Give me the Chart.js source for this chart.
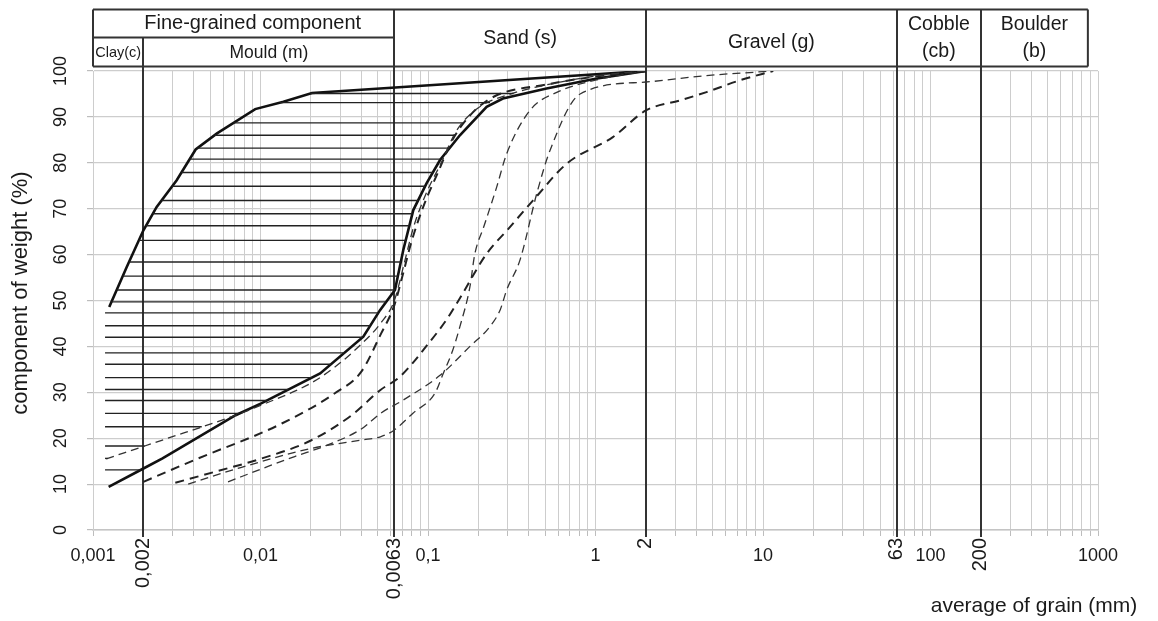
<!DOCTYPE html>
<html><head><meta charset="utf-8">
<script src="https://cdn.jsdelivr.net/npm/chart.js@4.4.1/dist/chart.umd.min.js"></script>
<style>html,body{margin:0;padding:0;background:#fff}#wrap{width:1158px;height:621px;position:relative}</style>
</head><body><div id="wrap"><canvas id="c" width="1158" height="621"></canvas></div>
<script>
// ---------- data ----------
const xDecades = [0.001, 0.01, 0.1, 1, 10, 100, 1000];
const xDecadeLabels = ['0,001', '0,01', '0,1', '1', '10', '100', '1000'];
const boundaryValues = [0.002, 0.063, 2, 63, 200];
const boundaryLabels = ['0,002', '0,0063', '2', '63', '200'];
const yTicks = [0, 10, 20, 30, 40, 50, 60, 70, 80, 90, 100];

const headerTopLabels = ['Fine-grained component', 'Sand (s)', 'Gravel (g)', 'Cobble|(cb)', 'Boulder|(b)'];
const headerTopBounds = [0.001, 0.063, 2, 63, 200, 870];
const headerSubLabels = ['Clay(c)', 'Mould (m)'];
const headerSubBounds = [0.001, 0.002, 0.063];

const upperBoundary = [[0.00125,48.6],[0.00159,57.3],[0.002,65.3],[0.0024,70.4],[0.00316,76.2],[0.0041,82.9],[0.0055,86.4],[0.0093,91.7],[0.0137,93.3],[0.0203,95.2],[2,100]];
const lowerBoundary = [[0.00124,9.4],[0.002,13.4],[0.0026,15.6],[0.0071,25],[0.0101,27.6],[0.0227,34.1],[0.0411,42.1],[0.0517,47.9],[0.0635,52.3],[0.0712,61],[0.0817,69.7],[0.098,75.5],[0.118,80.6],[0.155,86],[0.224,92.2],[0.28,94],[0.51,96.2],[1.0,98.3],[2,100]];
const hatchLevels = [95.1,93.1,88.7,86.0,83.2,80.8,77.9,74.9,71.8,68.9,66.3,63.1,58.4,55.3,52.3,49.7,47.3,44.5,42.0,38.6,36.1,33.2,30.6,28.2,25.4,22.5,18.3,15.6,13.1];
const hatchLeftLimit = 0.00118;

const sample1 = [[0.0012,15.5],[0.0026,19.6],[0.0071,25],[0.0101,27.2],[0.02,32],[0.0278,35.5],[0.04,40.5],[0.052,45],[0.063,50],[0.072,58],[0.082,66],[0.098,73.5],[0.12,80],[0.148,87],[0.2,92],[0.3,94.8],[0.6,97.5],[1.2,99.3],[2,100]];
const sample2 = [[0.002,10.5],[0.004,15.2],[0.0134,23.2],[0.0278,29.8],[0.04,34.5],[0.052,42.5],[0.063,49],[0.07,55],[0.08,63],[0.095,71],[0.115,78],[0.14,85],[0.18,90.5],[0.25,94.5],[0.5,97],[1,98.8],[2,100]];
const sample3 = [[0.0031,10.3],[0.0055,12.8],[0.01,15.5],[0.02,19.5],[0.035,25],[0.052,30.5],[0.068,33.4],[0.1,40.5],[0.13,46],[0.155,50.5],[0.224,60.2],[0.3,65.5],[0.424,71.8],[0.673,79.8],[1.27,85.6],[2,91.4],[3.2,93.6],[4.6,95.4],[7.3,98],[11.5,100]];
const sample4 = [[0.0037,10],[0.007,13.2],[0.0203,17.8],[0.04,19.6],[0.052,20.3],[0.063,21.8],[0.081,25.4],[0.11,29.8],[0.123,34],[0.14,39],[0.155,44.3],[0.178,53],[0.19,60],[0.215,66],[0.257,74.7],[0.295,82],[0.406,91.4],[0.6,95.5],[1,98],[2,100]];
const sample5 = [[0.0064,10.5],[0.011,13.8],[0.016,16],[0.025,18.5],[0.04,22],[0.052,25.4],[0.071,28.3],[0.118,33.7],[0.178,40],[0.234,44.3],[0.27,48],[0.295,52.3],[0.354,58.8],[0.446,73.3],[0.535,82.7],[0.81,95],[2,97.6],[4.6,99],[11.5,100]];

// ---------- helpers ----------
const FONT = '"Liberation Sans", Arial, Helvetica, sans-serif';
const toPts = arr => arr.map(([x, y]) => ({x, y}));
function xAtLevel(curve, y) {
  for (let i = 0; i < curve.length - 1; i++) {
    const [x0, y0] = curve[i], [x1, y1] = curve[i + 1];
    if (y >= y0 && y <= y1) {
      const t = (y - y0) / (y1 - y0);
      return Math.pow(10, Math.log10(x0) + t * (Math.log10(x1) - Math.log10(x0)));
    }
  }
  return null;
}
const gridValues = [];
for (let e = -3; e <= 2; e++) for (let k = 1; k <= 9; k++) gridValues.push(Number((k * Math.pow(10, e)).toPrecision(6)));
gridValues.push(1000);

const datasets = [];
hatchLevels.forEach(lv => {
  const xl = lv < upperBoundary[0][1] ? hatchLeftLimit : xAtLevel(upperBoundary, lv);
  const xr = Math.min(xAtLevel(lowerBoundary, lv), xAtLevel(sample1, lv) || Infinity);
  datasets.push({data: [{x: xl, y: lv}, {x: xr, y: lv}], borderColor: '#222', borderWidth: 1.4, tension: 0});
});
const dashThin = {borderColor: '#333', borderWidth: 1.3, borderDash: [8, 5], cubicInterpolationMode: 'monotone'};
const dashBold = {borderColor: '#222', borderWidth: 2, borderDash: [9, 6], cubicInterpolationMode: 'monotone'};
datasets.push(Object.assign({data: toPts(sample1)}, dashThin));
datasets.push(Object.assign({data: toPts(sample2)}, dashBold));
datasets.push(Object.assign({data: toPts(sample3)}, dashBold));
datasets.push(Object.assign({data: toPts(sample4)}, dashThin));
datasets.push(Object.assign({data: toPts(sample5)}, dashThin));
datasets.push({data: toPts(upperBoundary), borderColor: '#111', borderWidth: 2.6, tension: 0});
datasets.push({data: toPts(lowerBoundary), borderColor: '#111', borderWidth: 2.6, tension: 0});

const TABLE_TOP = 9.5, TABLE_MID = 37.5, TABLE_BOTTOM = 66.5;

const overlay = {
  id: 'overlay',
  beforeDatasetsDraw(chart) {
    const c = chart.ctx, xs = chart.scales.x;
    c.save();
    c.strokeStyle = '#333'; c.lineWidth = 2;
    boundaryValues.forEach((v, i) => {
      const px = Math.round(xs.getPixelForValue(v));
      c.beginPath();
      c.moveTo(px, i === 0 ? TABLE_MID : TABLE_TOP);
      c.lineTo(px, chart.chartArea.bottom + 7);
      c.stroke();
    });
    c.restore();
  },
  afterDraw(chart) {
    const c = chart.ctx, xs = chart.scales.x, ys = chart.scales.y;
    c.save();
    // table frame
    const L = xs.getPixelForValue(headerTopBounds[0]);
    const R = xs.getPixelForValue(headerTopBounds[headerTopBounds.length - 1]);
    const M = xs.getPixelForValue(headerSubBounds[2]);
    c.strokeStyle = '#333'; c.lineWidth = 2;
    c.beginPath();
    c.moveTo(L, TABLE_TOP); c.lineTo(R, TABLE_TOP);
    c.moveTo(L, TABLE_BOTTOM); c.lineTo(R, TABLE_BOTTOM);
    c.moveTo(L, TABLE_MID); c.lineTo(M, TABLE_MID);
    c.moveTo(L, TABLE_TOP); c.lineTo(L, TABLE_BOTTOM);
    c.moveTo(R, TABLE_TOP); c.lineTo(R, TABLE_BOTTOM);
    c.stroke();
    // header text
    c.fillStyle = '#1a1a1a'; c.textAlign = 'center'; c.textBaseline = 'middle';
    headerTopLabels.forEach((lab, i) => {
      const x0 = xs.getPixelForValue(headerTopBounds[i]), x1 = xs.getPixelForValue(headerTopBounds[i + 1]);
      const cx = (x0 + x1) / 2;
      c.font = '19.5px ' + FONT;
      if (i === 0) { c.font = '20px ' + FONT; c.fillText(lab, cx + 9, 23.5); }
      else if (lab.indexOf('|') >= 0) {
        const parts = lab.split('|');
        c.fillText(parts[0], cx, 25); c.fillText(parts[1], cx, 51.5);
      } else { c.fillText(lab, cx, i === 1 ? 39 : 43); }
    });
    headerSubLabels.forEach((lab, i) => {
      const x0 = xs.getPixelForValue(headerSubBounds[i]), x1 = xs.getPixelForValue(headerSubBounds[i + 1]);
      c.font = (i === 0 ? '14.5px ' : '17.5px ') + FONT;
      c.fillText(lab, (x0 + x1) / 2, 53);
    });
    // rotated boundary tick labels
    c.font = '20px ' + FONT; c.textAlign = 'right'; c.textBaseline = 'middle';
    boundaryValues.forEach((v, i) => {
      const px = xs.getPixelForValue(v);
      c.save(); c.translate(px, chart.chartArea.bottom + 8); c.rotate(-Math.PI / 2);
      c.fillText(boundaryLabels[i], 0, 0); c.restore();
    });
    // y tick labels (rotated)
    c.font = '18px ' + FONT; c.textAlign = 'center';
    yTicks.forEach(v => {
      const py = ys.getPixelForValue(v);
      c.save(); c.translate(61, py); c.rotate(-Math.PI / 2);
      c.fillText(String(v), 0, 0); c.restore();
    });
    // axis titles
    c.font = '22px ' + FONT;
    c.save(); c.translate(21, 293); c.rotate(-Math.PI / 2);
    c.fillText('component of weight (%)', 0, 0); c.restore();
    c.font = '21px ' + FONT; c.textAlign = 'center';
    c.fillText('average of grain (mm)', 1034, 606);
    c.restore();
  }
};

new Chart(document.getElementById('c'), {
  type: 'line',
  data: {datasets},
  options: {
    responsive: false, animation: false, events: [],
    layout: {padding: {top: 71, right: 60, left: 0, bottom: 0}},
    plugins: {legend: {display: false}, tooltip: {enabled: false}},
    elements: {point: {radius: 0}},
    scales: {
      x: {
        type: 'logarithmic', min: 0.001, max: 1000,
        afterBuildTicks(s) { s.ticks = gridValues.map(v => ({value: v})); },
        afterFit(s) { s.height = 91; },
        ticks: {
          autoSkip: false, maxRotation: 0, minRotation: 0, padding: 9, color: '#1a1a1a',
          font: {family: FONT, size: 18},
          callback(v) { const i = xDecades.findIndex(d => Math.abs(d - v) / d < 1e-6); return i >= 0 ? xDecadeLabels[i] : ''; }
        },
        grid: {color: '#cdcdcd', lineWidth: 1, tickLength: 6, tickColor: '#bdbdbd'},
        border: {color: '#c4c4c4', width: 1.5}
      },
      y: {
        min: 0, max: 100,
        afterBuildTicks(s) { s.ticks = yTicks.map(v => ({value: v})); },
        afterFit(s) { s.width = 93; },
        ticks: {display: false},
        grid: {color: '#cdcdcd', lineWidth: 1.2, tickLength: 6, tickColor: '#bdbdbd'},
        border: {color: '#cdcdcd'}
      }
    }
  },
  plugins: [overlay]
});
</script></body></html>
